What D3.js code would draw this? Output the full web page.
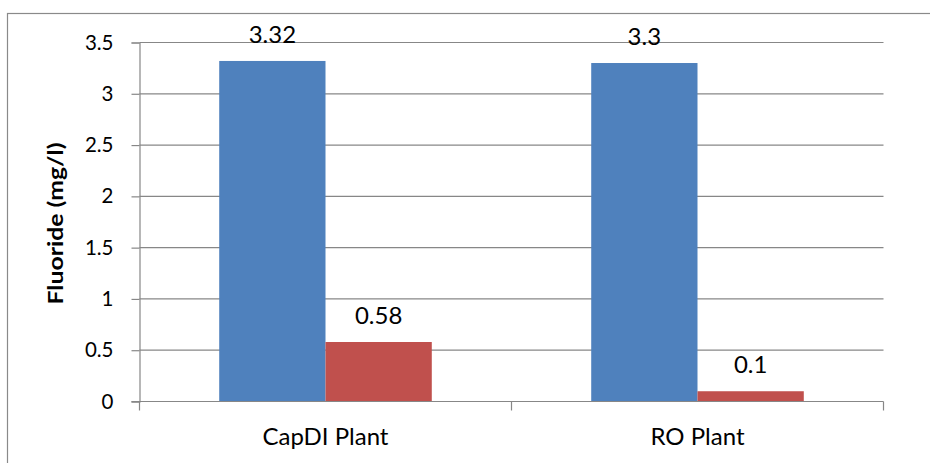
<!DOCTYPE html>
<html>
<head>
<meta charset="utf-8">
<script src="https://cdn.jsdelivr.net/npm/d3@7"></script>
<style>
  html, body { margin: 0; padding: 0; background: #fff; }
  svg { display: block; }
  text { font-family: Lato, "Open Sans", sans-serif; fill: #000; }
</style>
</head>
<body>
<svg id="chart" width="930" height="463"></svg>
<script>
// Fluoride concentration at two treatment plants
const plants = ["CapDI Plant", "RO Plant"];
const seriesKeys = ["feed", "treated"];
const feedValues = [3.32, 3.3];
const treatedValues = [0.58, 0.1];
const yTicks = [0, 0.5, 1, 1.5, 2, 2.5, 3, 3.5];
const yTitle = "Fluoride (mg/l)";
const seriesColors = ["#4F81BD", "#C0504D"];

const rows = plants.map((p, i) => ({ plant: p, values: [feedValues[i], treatedValues[i]] }));

const svg = d3.select("#chart");
const gridColor = "#878787";

// outer chart frame
svg.append("rect")
  .attr("x", 7.5).attr("y", 13.5)
  .attr("width", 940).attr("height", 470)
  .attr("fill", "none").attr("stroke", "#8a8a8a").attr("stroke-width", 1.2);

const plotLeft = 139.5, plotRight = 883.5, plotTop = 42.5, plotBottom = 401.5;

const y = d3.scaleLinear().domain([0, 3.5]).range([plotBottom, plotTop]);
const x0 = d3.scaleBand().domain(plants).range([plotLeft, plotRight]).paddingInner(0).paddingOuter(0);
const x1 = d3.scaleBand().domain(seriesKeys).range([0, x0.bandwidth()]).paddingInner(0).paddingOuter(0.75);

// horizontal gridlines
svg.append("g")
  .selectAll("line")
  .data(yTicks.filter(t => t > 0))
  .join("line")
  .attr("x1", plotLeft).attr("x2", plotRight)
  .attr("y1", d => y(d)).attr("y2", d => y(d))
  .attr("stroke", gridColor).attr("stroke-width", 1.2);

// bars
const groups = svg.append("g")
  .selectAll("g")
  .data(rows)
  .join("g")
  .attr("transform", d => `translate(${x0(d.plant)},0)`);

groups.selectAll("rect")
  .data(d => d.values.map((v, i) => ({ key: seriesKeys[i], value: v, i })))
  .join("rect")
  .attr("x", d => x1(d.key))
  .attr("width", x1.bandwidth())
  .attr("y", d => y(d.value))
  .attr("height", d => y(0) - y(d.value))
  .attr("fill", d => seriesColors[d.i]);

// value labels
groups.selectAll("text.val")
  .data(d => d.values.map((v, i) => ({ key: seriesKeys[i], value: v })))
  .join("text")
  .attr("class", "val")
  .attr("x", d => x1(d.key) + x1.bandwidth() / 2)
  .attr("y", d => y(d.value) - 18)
  .attr("text-anchor", "middle")
  .style("font-size", "24px")
  .text(d => String(d.value));

// y axis
const yAxis = d3.axisLeft(y).tickValues(yTicks).tickSize(8).tickPadding(18)
  .tickFormat(d => String(d));
const gy = svg.append("g").attr("transform", `translate(${plotLeft},0)`).call(yAxis);
gy.select(".domain").attr("stroke", gridColor).attr("stroke-width", 1.2);
gy.selectAll(".tick line").attr("stroke", gridColor).attr("stroke-width", 1.2);
gy.selectAll(".tick text").style("font-size", "20.5px").attr("fill", "#000")
  .style("font-family", "Lato, 'Open Sans', sans-serif");

// x axis with boundary ticks between categories
const xAxis = d3.axisBottom(x0).tickSize(0).tickPadding(26);
const gx = svg.append("g").attr("transform", `translate(0,${plotBottom})`).call(xAxis);
gx.select(".domain").remove();
gx.selectAll(".tick text").style("font-size", "24px").attr("fill", "#000")
  .style("font-family", "Lato, 'Open Sans', sans-serif");
gx.append("line").attr("x1", plotLeft - 8).attr("x2", plotRight)
  .attr("y1", 0).attr("y2", 0).attr("stroke", gridColor).attr("stroke-width", 1.2);
const boundaries = plants.map(p => x0(p)).concat([x0(plants[plants.length - 1]) + x0.bandwidth()]);
gx.selectAll("line.bound")
  .data(boundaries)
  .join("line")
  .attr("class", "bound")
  .attr("x1", d => d).attr("x2", d => d)
  .attr("y1", 0).attr("y2", 9)
  .attr("stroke", gridColor).attr("stroke-width", 1.2);

// y axis title
svg.append("text")
  .attr("transform", `translate(63,223.5) rotate(-90)`)
  .attr("text-anchor", "middle")
  .attr("textLength", 162)
  .attr("lengthAdjust", "spacingAndGlyphs")
  .style("font-size", "21px")
  .style("font-weight", "bold")
  .text(yTitle);
</script>
</body>
</html>
